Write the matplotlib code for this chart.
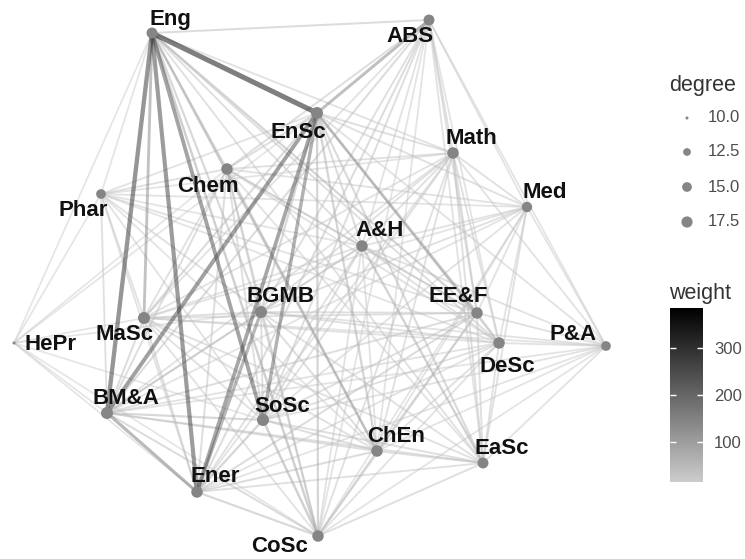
import numpy as np
import matplotlib
matplotlib.use('Agg')
import matplotlib.pyplot as plt
from matplotlib.collections import LineCollection
from matplotlib.colors import LinearSegmentedColormap, Normalize
from matplotlib.cm import ScalarMappable

plt.rcParams['font.family'] = ['Liberation Sans', 'DejaVu Sans']

# node layout (x right, y down)
nodes = ['Eng', 'ABS', 'EnSc', 'Math', 'Med', 'Chem', 'Phar', 'A&H', 'BGMB', 'EE&F',
         'P&A', 'DeSc', 'MaSc', 'HePr', 'BM&A', 'SoSc', 'ChEn', 'EaSc', 'Ener', 'CoSc']
node_x = [152, 429, 317, 453, 527, 227, 101, 362, 261, 477,
          606, 499, 144, 14, 107, 263, 377, 483, 197, 318]
node_y = [33, 20, 113, 153, 207, 169, 194, 246, 312, 313,
          346, 343, 318, 343, 413, 420, 451, 463, 492, 536]

# weighted co-occurrence edges
edges = [
    ('Eng', 'ABS', 45), ('Eng', 'EnSc', 387), ('Eng', 'Math', 25), ('Eng', 'Chem', 30),
    ('Eng', 'A&H', 35), ('Eng', 'BGMB', 60), ('Eng', 'EE&F', 70), ('Eng', 'DeSc', 40),
    ('Eng', 'MaSc', 140), ('Eng', 'HePr', 13), ('Eng', 'BM&A', 300), ('Eng', 'SoSc', 250),
    ('Eng', 'ChEn', 100), ('Eng', 'EaSc', 30), ('Eng', 'Ener', 280), ('Eng', 'CoSc', 90),
    ('Eng', 'Phar', 15),
    ('ABS', 'EnSc', 150), ('ABS', 'Math', 30), ('ABS', 'Med', 20), ('ABS', 'Chem', 40),
    ('ABS', 'A&H', 25), ('ABS', 'BGMB', 35), ('ABS', 'EE&F', 30), ('ABS', 'DeSc', 20),
    ('ABS', 'MaSc', 25), ('ABS', 'BM&A', 45), ('ABS', 'SoSc', 40), ('ABS', 'ChEn', 20),
    ('ABS', 'EaSc', 25), ('ABS', 'Ener', 45), ('ABS', 'CoSc', 20), ('ABS', 'P&A', 20),
    ('EnSc', 'Math', 35), ('EnSc', 'Med', 30), ('EnSc', 'Chem', 40), ('EnSc', 'Phar', 25),
    ('EnSc', 'A&H', 45), ('EnSc', 'BGMB', 60), ('EnSc', 'EE&F', 120), ('EnSc', 'P&A', 25),
    ('EnSc', 'DeSc', 50), ('EnSc', 'MaSc', 50), ('EnSc', 'HePr', 13), ('EnSc', 'BM&A', 260),
    ('EnSc', 'SoSc', 200), ('EnSc', 'ChEn', 70), ('EnSc', 'EaSc', 55), ('EnSc', 'Ener', 240),
    ('EnSc', 'CoSc', 70),
    ('Math', 'Med', 30), ('Math', 'Chem', 30), ('Math', 'Phar', 20), ('Math', 'A&H', 30),
    ('Math', 'BGMB', 30), ('Math', 'EE&F', 35), ('Math', 'P&A', 25), ('Math', 'DeSc', 30),
    ('Math', 'MaSc', 25), ('Math', 'BM&A', 25), ('Math', 'SoSc', 30), ('Math', 'ChEn', 30),
    ('Math', 'EaSc', 35), ('Math', 'Ener', 25), ('Math', 'CoSc', 30),
    ('Med', 'Chem', 25), ('Med', 'Phar', 20), ('Med', 'A&H', 25), ('Med', 'BGMB', 30),
    ('Med', 'EE&F', 25), ('Med', 'P&A', 20), ('Med', 'DeSc', 25), ('Med', 'MaSc', 20),
    ('Med', 'SoSc', 25), ('Med', 'ChEn', 25), ('Med', 'EaSc', 30), ('Med', 'CoSc', 20),
    ('Med', 'BM&A', 20),
    ('Chem', 'Phar', 30), ('Chem', 'A&H', 25), ('Chem', 'BGMB', 45), ('Chem', 'EE&F', 35),
    ('Chem', 'DeSc', 25), ('Chem', 'MaSc', 30), ('Chem', 'HePr', 13), ('Chem', 'BM&A', 40),
    ('Chem', 'SoSc', 35), ('Chem', 'ChEn', 45), ('Chem', 'EaSc', 25), ('Chem', 'Ener', 40),
    ('Chem', 'CoSc', 30),
    ('Phar', 'A&H', 20), ('Phar', 'BGMB', 30), ('Phar', 'EE&F', 25), ('Phar', 'DeSc', 20),
    ('Phar', 'MaSc', 25), ('Phar', 'HePr', 13), ('Phar', 'BM&A', 30), ('Phar', 'SoSc', 25),
    ('Phar', 'ChEn', 20), ('Phar', 'Ener', 25),
    ('A&H', 'BGMB', 30), ('A&H', 'EE&F', 30), ('A&H', 'P&A', 25), ('A&H', 'DeSc', 30),
    ('A&H', 'MaSc', 25), ('A&H', 'BM&A', 30), ('A&H', 'SoSc', 35), ('A&H', 'ChEn', 25),
    ('A&H', 'EaSc', 80), ('A&H', 'Ener', 30), ('A&H', 'CoSc', 25),
    ('BGMB', 'EE&F', 35), ('BGMB', 'P&A', 25), ('BGMB', 'DeSc', 30), ('BGMB', 'MaSc', 35),
    ('BGMB', 'HePr', 13), ('BGMB', 'BM&A', 45), ('BGMB', 'SoSc', 40), ('BGMB', 'ChEn', 40),
    ('BGMB', 'EaSc', 30), ('BGMB', 'Ener', 180), ('BGMB', 'CoSc', 50),
    ('EE&F', 'P&A', 30), ('EE&F', 'DeSc', 35), ('EE&F', 'MaSc', 30), ('EE&F', 'BM&A', 40),
    ('EE&F', 'SoSc', 35), ('EE&F', 'ChEn', 40), ('EE&F', 'EaSc', 35), ('EE&F', 'Ener', 45),
    ('EE&F', 'CoSc', 40),
    ('P&A', 'DeSc', 25), ('P&A', 'MaSc', 20), ('P&A', 'BM&A', 20), ('P&A', 'SoSc', 25),
    ('P&A', 'ChEn', 20), ('P&A', 'EaSc', 25), ('P&A', 'Ener', 20), ('P&A', 'CoSc', 20),
    ('DeSc', 'MaSc', 25), ('DeSc', 'BM&A', 25), ('DeSc', 'SoSc', 30), ('DeSc', 'ChEn', 30),
    ('DeSc', 'EaSc', 30), ('DeSc', 'Ener', 25), ('DeSc', 'CoSc', 25),
    ('MaSc', 'HePr', 13), ('MaSc', 'BM&A', 45), ('MaSc', 'SoSc', 30), ('MaSc', 'ChEn', 30),
    ('MaSc', 'EaSc', 30), ('MaSc', 'Ener', 40), ('MaSc', 'CoSc', 25),
    ('HePr', 'BM&A', 13), ('HePr', 'SoSc', 13), ('HePr', 'Ener', 13), ('HePr', 'CoSc', 13),
    ('BM&A', 'SoSc', 60), ('BM&A', 'ChEn', 40), ('BM&A', 'EaSc', 30), ('BM&A', 'Ener', 170),
    ('BM&A', 'CoSc', 45),
    ('SoSc', 'ChEn', 40), ('SoSc', 'EaSc', 35), ('SoSc', 'Ener', 70), ('SoSc', 'CoSc', 90),
    ('ChEn', 'EaSc', 40), ('ChEn', 'Ener', 45), ('ChEn', 'CoSc', 40),
    ('EaSc', 'Ener', 30), ('EaSc', 'CoSc', 35),
    ('Ener', 'CoSc', 60),
]

size_breaks = [10.0, 12.5, 15.0, 17.5]
weight_ticks = [100, 200, 300]

# label nudges in pixels
label_nudge = {
    'Eng': (18, -13), 'ABS': (-19, 17), 'EnSc': (-19, 19), 'Math': (18, -15),
    'Med': (18, -15), 'Chem': (-19, 17), 'Phar': (-18, 17), 'A&H': (18, -15),
    'BGMB': (19, -15), 'EE&F': (-19, -16), 'P&A': (-33, -11), 'DeSc': (8, 24),
    'MaSc': (-19, 17), 'HePr': (36, 2), 'BM&A': (19, -15), 'SoSc': (19, -14),
    'ChEn': (19, -15), 'EaSc': (19, -14), 'Ener': (18, -15), 'CoSc': (-38, 11),
}

idx = {n: i for i, n in enumerate(nodes)}
x = np.array(node_x, dtype=float)
y = np.array(node_y, dtype=float)
w = np.array([e[2] for e in edges], dtype=float)

degree = np.zeros(len(nodes))
for a, b, _ in edges:
    degree[idx[a]] += 1
    degree[idx[b]] += 1

dmin, dmax = degree.min(), degree.max()


def node_px(d):
    # area scaling like ggplot's scale_size
    t = np.clip((np.asarray(d) - dmin) / (dmax - dmin), 0, 1)
    return 3 + 9 * np.sqrt(t)


cmap = LinearSegmentedColormap.from_list('wgrey', ['#cccccc', '#000000'])
norm = Normalize(vmin=w.min(), vmax=w.max())

fig = plt.figure(figsize=(7.45, 5.59), dpi=100)
ax = fig.add_axes([0, 0, 1, 1])
ax.set_xlim(0, 745)
ax.set_ylim(559, 0)
ax.axis('off')

order = np.argsort(w)
segs = [[(x[idx[edges[k][0]]], y[idx[edges[k][0]]]),
         (x[idx[edges[k][1]]], y[idx[edges[k][1]]])] for k in order]
lc = LineCollection(segs, colors=cmap(norm(w[order])),
                    linewidths=(1.6 + w[order] * 0.009) * 0.72, alpha=0.5,
                    capstyle='round', zorder=1)
ax.add_collection(lc)

px2pt = 0.72
ax.scatter(x, y, s=(node_px(degree) * px2pt) ** 2, color='#858585',
           edgecolors='none', zorder=3)

for n in nodes:
    dx, dy = label_nudge[n]
    ax.text(x[idx[n]] + dx, y[idx[n]] + dy, n, ha='center', va='center',
            fontsize=16, fontweight='bold', color='#111111', zorder=4)

# degree legend
ax.text(669, 86, 'degree', fontsize=15.5, color='#333333', ha='left', va='center')
leg_y = [118, 152, 187, 222]
for b, ly in zip(size_breaks, leg_y):
    ax.scatter([687], [ly], s=(node_px(b) * px2pt) ** 2, color='#858585',
               edgecolors='none', clip_on=False, zorder=3)
    ax.text(708, ly, f'{b:.1f}', fontsize=12, color='#4d4d4d', ha='left', va='center')

# weight colourbar
ax.text(669, 293, 'weight', fontsize=15.5, color='#333333', ha='left', va='center')
cax = fig.add_axes([670 / 745, 1 - 482 / 559, 33 / 745, 174 / 559])
cb = fig.colorbar(ScalarMappable(norm=norm, cmap=cmap), cax=cax, ticks=weight_ticks)
cb.outline.set_visible(False)
cax.tick_params(which='both', direction='in', length=4, width=1, colors='white',
                left=True, right=True, labelcolor='#4d4d4d', labelsize=12, pad=8)

fig.savefig('out.png', dpi=100)
